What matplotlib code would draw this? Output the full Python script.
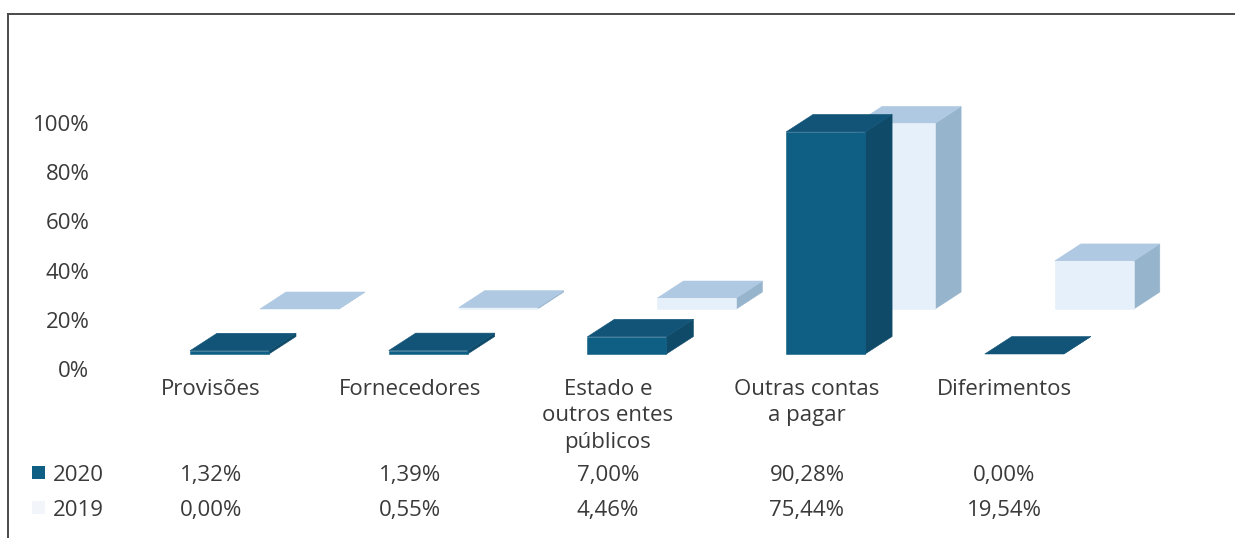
import matplotlib
matplotlib.use("Agg")
import matplotlib.pyplot as plt
from matplotlib.patches import Polygon, Rectangle
from matplotlib.lines import Line2D

categories = ["Provisões", "Fornecedores", "Estado e\noutros entes\npúblicos", "Outras contas\na pagar", "Diferimentos"]
values_2020 = [1.32, 1.39, 7.00, 90.28, 0.00]
values_2019 = [0.00, 0.55, 4.46, 75.44, 19.54]
labels_2020 = ["1,32%", "1,39%", "7,00%", "90,28%", "0,00%"]
labels_2019 = ["0,00%", "0,55%", "4,46%", "75,44%", "19,54%"]
ytick_labels = ["0%", "20%", "40%", "60%", "80%", "100%"]
yticks = [0, 20, 40, 60, 80, 100]

W, H = 1235, 538
plt.rcParams["font.family"] = ["Open Sans", "DejaVu Sans"]
text_col = "#3a3a3a"
fs = 16

fig = plt.figure(figsize=(W / 100, H / 100), dpi=100)
ax = fig.add_axes([95 / W, 0, (W - 95) / W, 1])

# one category = 198.7 px, category 0 centred at x=211; 2.46 px per percent, 0% at y=369
ax.set_xlim((95 - 211) / 198.7, (W - 211) / 198.7)
ax.set_ylim((369 - H) / 2.46, 369 / 2.46)
for s in ax.spines.values():
    s.set_visible(False)
ax.set_xticks([])
ax.set_yticks(yticks)
ax.set_yticklabels(ytick_labels, fontsize=fs, color=text_col)
ax.tick_params(axis="y", length=0, pad=4)
ax.patch.set_alpha(0)


def bar3d(x0, floor, val, width, dx, dy, front, side, top, z):
    # front face, side face and top face of a fake 3d column
    y1 = floor + val
    ax.add_patch(Polygon([(x0 + width, floor), (x0 + width + dx, floor + dy), (x0 + width + dx, y1 + dy), (x0 + width, y1)],
                         closed=True, fc=side, ec=side, lw=0.4, zorder=z))
    ax.add_patch(Polygon([(x0, y1), (x0 + dx, y1 + dy), (x0 + width + dx, y1 + dy), (x0 + width, y1)],
                         closed=True, fc=top, ec=top, lw=0.4, zorder=z))
    if val > 0:
        ax.add_patch(Rectangle((x0, floor), width, val, fc=front, ec=front, lw=0.4, zorder=z))


width = 79 / 198.7
for i in range(len(categories)):
    bar3d(i - 21 / 198.7 + 70 / 198.7, 24.4, values_2019[i], width, 26 / 198.7, 6.9,
          "#e6f0fa", "#97b4cd", "#afc9e3", 2)
for i in range(len(categories)):
    bar3d(i - 21 / 198.7, 6.1, values_2020[i], width, 27 / 198.7, 7.1,
          "#0f5f85", "#0f4a69", "#125478", 3)


def px_text(x, y, s, **kw):
    fig.text(x / W, 1 - y / H, s, fontsize=fs, color=text_col, **kw)


centers = [211, 410, 608, 807, 1004]
for i in range(len(categories)):
    px_text(centers[i], 379, categories[i], ha="center", va="top", linespacing=1.33)
    px_text(centers[i], 481, labels_2020[i], ha="center", va="baseline")
    px_text(centers[i], 516, labels_2019[i], ha="center", va="baseline")

px_text(53, 481, "2020", ha="left", va="baseline")
px_text(53, 516, "2019", ha="left", va="baseline")
fig.add_artist(Rectangle((32 / W, 1 - 479 / H), 13 / W, 13 / H, fc="#0f5f85", ec="none", transform=fig.transFigure))
fig.add_artist(Rectangle((32 / W, 1 - 514 / H), 13 / W, 13 / H, fc="#f2f5f9", ec="none", transform=fig.transFigure))

# frame, only top and left edges are in the scan
fig.add_artist(Line2D([8 / W, 1], [1 - 14 / H, 1 - 14 / H], color="#4a4a4a", lw=1.4))
fig.add_artist(Line2D([8 / W, 8 / W], [0, 1 - 14 / H], color="#4a4a4a", lw=1.4))

fig.savefig("out.png", dpi=100)
